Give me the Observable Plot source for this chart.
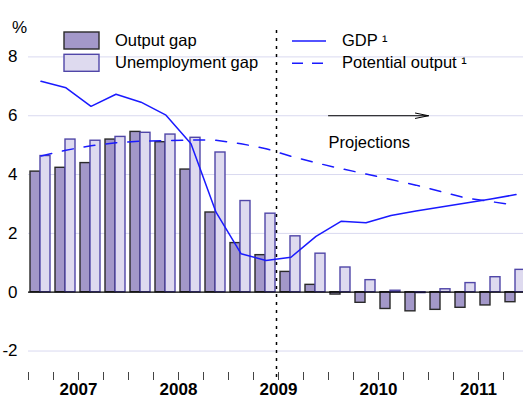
<!DOCTYPE html>
<html>
<head>
<meta charset="utf-8">
<script src="https://cdn.jsdelivr.net/npm/d3@7"></script>
<script src="https://cdn.jsdelivr.net/npm/@observablehq/plot@0.6"></script>
<style>
  html, body { margin: 0; padding: 0; background: #fff; }
  #chart { width: 523px; height: 400px; }
</style>
</head>
<body>
<div id="chart"></div>
<script>
// ---- Data ----
const years = ["2007", "2008", "2009", "2010", "2011"];
const quarterNames = ["Q1", "Q2", "Q3", "Q4"];
const outputGap = [4.1, 4.23, 4.39, 5.19, 5.45, 5.1, 4.17, 2.71, 1.67, 1.26,
                   0.69, 0.25, -0.08, -0.36, -0.57, -0.65, -0.6, -0.53, -0.45, -0.34];
const unemploymentGap = [4.63, 5.19, 5.15, 5.28, 5.42, 5.36, 5.25, 4.75, 3.1, 2.67,
                         1.9, 1.31, 0.84, 0.41, 0.05, -0.03, 0.1, 0.31, 0.51, 0.76];
const gdp = [7.17, 6.95, 6.32, 6.73, 6.46, 6.02, 5.05, 2.72, 1.31, 1.08,
             1.19, 1.9, 2.41, 2.36, 2.61, 2.76, 2.9, 3.03, 3.17, 3.32];
const potentialOutput = [4.63, 4.83, 4.98, 5.08, 5.14, 5.15, 5.18, 5.17, 5.05, 4.88,
                         4.62, 4.4, 4.2, 4.02, 3.83, 3.64, 3.42, 3.2, 3.08, 2.96];
const yTicks = [-2, 0, 2, 4, 6, 8];
const projectionStart = 9.92;   // quarter index of the dotted divider (mid-2009)
const projectionArrow = {from: 12, to: 16, level: 6};
const legendBars = ["Output gap", "Unemployment gap"];
const legendLines = ["GDP \u00b9", "Potential output \u00b9"];

// ---- Build table ----
const quarters = years.flatMap(y => quarterNames.map(q => `${y} ${q}`));
const rows = quarters.map((q, i) => ({
  q, i,
  og: outputGap[i], ug: unemploymentGap[i],
  gdp: gdp[i], pot: potentialOutput[i]
}));

const darkFill = "#a398c9", darkStroke = "#2a2a2a";
const lightFill = "#dedaef", lightStroke = "#5046a8";
const blue = "#1a1aff";
const gridColor = "#d9d9f0";
const font = "'Liberation Sans', Arial, Helvetica, sans-serif";

const svg = Plot.plot({
  width: 523,
  height: 400,
  marginLeft: 28,
  marginRight: 0,
  marginTop: 27,
  marginBottom: 28,
  style: {fontFamily: font, fontSize: "17px", background: "white", color: "black"},
  x: {domain: [0, 19.8], axis: null},
  y: {domain: [-2.73, 9.0], axis: null},
  marks: [
    Plot.ruleY(yTicks.filter(d => d !== 0), {stroke: gridColor, strokeWidth: 1}),
    Plot.rectY(rows, {x1: d => d.i + 0.08, x2: d => d.i + 0.48, y1: 0, y2: "og",
      fill: darkFill, stroke: darkStroke, strokeWidth: 1.4}),
    Plot.rectY(rows, {x1: d => d.i + 0.48, x2: d => d.i + 0.88, y1: 0, y2: "ug",
      fill: lightFill, stroke: lightStroke, strokeWidth: 1.4}),
    Plot.ruleY([0], {stroke: "black", strokeWidth: 1.2}),
    Plot.line(rows, {x: d => d.i + 0.5, y: "pot", stroke: blue, strokeWidth: 1.5,
      strokeDasharray: "11,11"}),
    Plot.line(rows, {x: d => d.i + 0.5, y: "gdp", stroke: blue, strokeWidth: 1.5}),
    Plot.ruleX([projectionStart], {y1: 8.9, y2: -3.05, stroke: "black", strokeWidth: 1.5,
      strokeDasharray: "3,5"}),
    Plot.arrow([projectionArrow], {x1: "from", x2: "to", y1: "level", y2: "level",
      stroke: "black", strokeWidth: 1, headAngle: 23, headLength: 20}),
    Plot.text([projectionArrow], {x: "from", y: 5.09, text: () => "Projections",
      textAnchor: "start", fontSize: 16.5, fill: "black"}),
    Plot.axisY({ticks: yTicks, tickSize: 0, tickPadding: 11, fontSize: 17, tickFormat: d => String(d)}),
    Plot.axisX({ticks: d3.range(0, 20), tickSize: 8, tickFormat: () => "", stroke: "#444"}),
    Plot.axisX({ticks: years.map((y, k) => k * 4 + 2), tickSize: 0, tickPadding: 10,
      tickFormat: v => years[(v - 2) / 4], fontSize: 17, fontWeight: "bold"}),
    Plot.text(["%"], {frameAnchor: "top-left", dx: -9, dy: -7, textAnchor: "middle",
      fontSize: 17, fill: "black"})
  ]
});

// ---- Legend (inside the plot area, no background) ----
const g = d3.select(svg).append("g")
  .attr("font-family", font).attr("font-size", 16.5).attr("text-anchor", "start");
legendBars.forEach((label, k) => {
  const yTop = 32 + k * 22.3;
  g.append("rect").attr("x", 64).attr("y", yTop).attr("width", 35).attr("height", 17)
    .attr("fill", k === 0 ? darkFill : lightFill)
    .attr("stroke", k === 0 ? darkStroke : lightStroke).attr("stroke-width", 1.4);
  g.append("text").attr("x", 115).attr("y", yTop + 14).attr("text-anchor", "start")
    .attr("fill", "black").text(label);
});
legendLines.forEach((label, k) => {
  const yMid = 41 + k * 22.3;
  g.append("line").attr("x1", 292).attr("x2", 326).attr("y1", yMid).attr("y2", yMid)
    .attr("stroke", blue).attr("stroke-width", 1.5)
    .attr("stroke-dasharray", k === 0 ? null : "11,9");
  g.append("text").attr("x", 342).attr("y", yMid + 5).attr("text-anchor", "start")
    .attr("fill", "black").text(label);
});

document.getElementById("chart").appendChild(svg);
</script>
</body>
</html>
